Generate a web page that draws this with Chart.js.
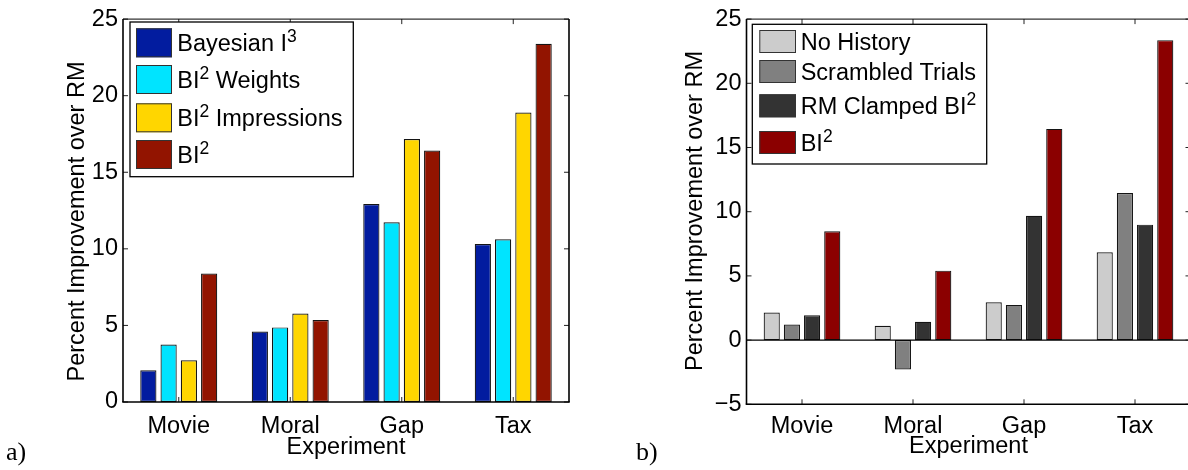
<!DOCTYPE html>
<html>
<head>
<meta charset="utf-8">
<script src="https://cdn.jsdelivr.net/npm/chart.js@4.4.1/dist/chart.umd.min.js"></script>
<style>
  html, body { margin: 0; padding: 0; background: #fff; overflow: hidden; }
  #wrap { position: relative; width: 1188px; height: 470px; overflow: hidden; background: #fff; }
  .panel { position: absolute; top: 0; width: 600px; height: 470px; }
  .tag { position: absolute; font-family: "Liberation Serif", serif; font-size: 26px; line-height: 26px; color: #000; }
</style>
</head>
<body>
<div id="wrap">
  <div class="panel" style="left:0"><canvas id="chartA" width="600" height="470"></canvas></div>
  <div class="panel" style="left:620px"><canvas id="chartB" width="600" height="470"></canvas></div>
  <div class="tag" style="left:6px; top:439px">a)</div>
  <div class="tag" style="left:636px; top:439px">b)</div>
</div>
<script>
// ---- data -------------------------------------------------------------
const experiments = ['Movie', 'Moral', 'Gap', 'Tax'];

// panel a)
const seriesNamesA = ['Bayesian I³', 'BI² Weights', 'BI² Impressions', 'BI²'];
const bayesianI3     = [2.07, 4.60, 12.93, 10.31];
const bi2Weights     = [3.75, 4.87, 11.73, 10.63];
const bi2Impressions = [2.72, 5.78, 17.17, 18.90];
const bi2A           = [8.39, 5.35, 16.42, 23.39];
const yTicksA = [0, 5, 10, 15, 20, 25];

// panel b)
const seriesNamesB = ['No History', 'Scrambled Trials', 'RM Clamped BI²', 'BI²'];
const noHistory       = [2.15, 1.11, 2.95, 6.84];
const scrambledTrials = [1.22, -2.28, 2.74, 11.45];
const rmClampedBI2    = [1.94, 1.42, 9.69, 8.99];
const bi2B            = [8.47, 5.41, 16.45, 23.36];
const yTicksB = [-5, 0, 5, 10, 15, 20, 25];

const yTitle = 'Percent Improvement over RM';
const xTitle = 'Experiment';

// ---- drawing helpers ------------------------------------------------------
const FAMILY = '"Liberation Sans", Arial, sans-serif';
const FS = 23.5;
const SUP = { '²': '2', '³': '3' };

// text with superscript digits drawn raised and smaller
function drawRich(ctx, text, x, y, size, supSize, rise) {
  const runs = [];
  for (const ch of text) {
    const sup = SUP[ch] !== undefined;
    const c = sup ? SUP[ch] : ch;
    if (runs.length && runs[runs.length - 1].sup === sup) runs[runs.length - 1].t += c;
    else runs.push({ sup, t: c });
  }
  let cx = x;
  ctx.textAlign = 'left';
  ctx.textBaseline = 'alphabetic';
  for (const r of runs) {
    ctx.font = (r.sup ? supSize : size) + 'px ' + FAMILY;
    ctx.fillText(r.t, cx, r.sup ? y - rise : y);
    cx += ctx.measureText(r.t).width;
  }
}

function seg(ctx, x1, y1, x2, y2) {
  ctx.beginPath(); ctx.moveTo(x1, y1); ctx.lineTo(x2, y2); ctx.stroke();
}

// axes box, inward ticks, zero line, legend and y title
const decorPlugin = {
  id: 'decor',
  afterDatasetsDraw(chart, args, o) {
    const ctx = chart.ctx, a = chart.chartArea;
    const xs = chart.scales.x, ys = chart.scales.y;
    ctx.save();

    // baseline at zero
    if (ys.min < 0) {
      const y0 = ys.getPixelForValue(0);
      ctx.strokeStyle = '#000'; ctx.lineWidth = 1.2;
      seg(ctx, a.left, y0, a.right, y0);
    }

    // inward tick marks on all four sides
    const tl = 5;
    ctx.strokeStyle = '#222'; ctx.lineWidth = 1;
    ys.ticks.forEach(t => {
      const y = ys.getPixelForValue(t.value);
      seg(ctx, a.left, y, a.left + tl, y);
      seg(ctx, a.right - tl, y, a.right, y);
    });
    xs.ticks.forEach((t, i) => {
      const x = xs.getPixelForTick(i);
      seg(ctx, x, a.bottom, x, a.bottom - tl);
      seg(ctx, x, a.top, x, a.top + tl);
    });

    // plot box
    ctx.strokeStyle = '#000';
    ctx.lineWidth = 1;
    seg(ctx, a.left, a.top, a.right, a.top);
    ctx.lineWidth = 1.6;
    seg(ctx, a.left, a.top, a.left, a.bottom);
    seg(ctx, a.right, a.top, a.right, a.bottom);
    seg(ctx, a.left - 0.8, a.bottom, a.right + 0.8, a.bottom);

    // legend
    const L = o.legend;
    ctx.fillStyle = '#fff';
    ctx.fillRect(L.frame[0], L.frame[1], L.frame[2] - L.frame[0], L.frame[3] - L.frame[1]);
    ctx.strokeStyle = '#000'; ctx.lineWidth = 1.3;
    ctx.strokeRect(L.frame[0], L.frame[1], L.frame[2] - L.frame[0], L.frame[3] - L.frame[1]);
    chart.data.datasets.forEach((ds, i) => {
      const top = L.rowTops[i];
      ctx.fillStyle = ds.backgroundColor;
      ctx.fillRect(L.boxX, top, L.boxW, L.boxH);
      ctx.strokeStyle = '#333'; ctx.lineWidth = 1;
      ctx.strokeRect(L.boxX + 0.5, top + 0.5, L.boxW - 1, L.boxH - 1);
      ctx.fillStyle = '#000';
      drawRich(ctx, ds.label, L.textX, top + L.boxH / 2 + L.baseOff, FS, 17.5, 9);
    });

    // y axis title
    ctx.translate(o.yTitle.x, o.yTitle.y);
    ctx.rotate(-Math.PI / 2);
    ctx.fillStyle = '#000';
    ctx.font = FS + 'px ' + FAMILY;
    ctx.textAlign = 'center';
    ctx.textBaseline = 'middle';
    ctx.fillText(yTitle, 0, 0);
    ctx.restore();
  }
};

function fmtTick(v) { return v < 0 ? '\u2212' + Math.abs(v) : String(v); }

function makeChart(id, names, series, colors, ticks, geom, decor) {
  return new Chart(document.getElementById(id), {
    type: 'bar',
    data: {
      labels: experiments,
      datasets: series.map((vals, i) => ({
        label: names[i],
        data: vals,
        backgroundColor: colors[i]
      }))
    },
    options: {
      responsive: false,
      animation: false,
      events: [],
      layout: { padding: geom.pad },
      datasets: {
        bar: {
          categoryPercentage: 0.727,
          barPercentage: 0.8,
          borderWidth: 1.2,
          borderColor: '#141414',
          borderSkipped: false
        }
      },
      plugins: {
        legend: { display: false },
        tooltip: { enabled: false },
        decor: decor
      },
      scales: {
        x: {
          grid: { display: false, drawTicks: false },
          border: { display: false },
          ticks: { color: '#000', font: { family: FAMILY, size: FS }, padding: geom.xTickPad, maxRotation: 0, autoSkip: false },
          title: { display: true, text: xTitle, color: '#000', font: { family: FAMILY, size: FS }, padding: { top: 0, bottom: geom.xTitlePad } },
          afterFit(s) { s.height = geom.xHeight; }
        },
        y: {
          min: ticks[0],
          max: ticks[ticks.length - 1],
          grid: { display: false, drawTicks: false },
          border: { display: false },
          ticks: { color: '#000', font: { family: FAMILY, size: FS }, padding: 5, callback: fmtTick },
          afterBuildTicks(s) { s.ticks = ticks.map(v => ({ value: v })); },
          afterFit(s) { s.width = geom.yWidth; }
        }
      }
    },
    plugins: [decorPlugin]
  });
}

makeChart('chartA', seriesNamesA,
  [bayesianI3, bi2Weights, bi2Impressions, bi2A],
  ['#021c9f', '#00e4ff', '#ffd600', '#921400'],
  yTicksA,
  { pad: { left: 0, top: 15.7, right: 31, bottom: 0 }, yWidth: 123, xHeight: 68, xTickPad: 10, xTitlePad: 8 },
  {
    legend: { frame: [130, 22, 353.3, 176.7], boxX: 136, boxW: 36, boxH: 29, rowTops: [28.3, 65, 103.3, 140], textX: 177.3, baseOff: 8 },
    yTitle: { x: 77.5, y: 221.5 }
  });

makeChart('chartB', seriesNamesB,
  [noHistory, scrambledTrials, rmClampedBI2, bi2B],
  ['#cccccc', '#808080', '#333333', '#8b0000'],
  yTicksB,
  { pad: { left: 0, top: 17.7, right: 29.5, bottom: 0 }, yWidth: 126.5, xHeight: 65.7, xTickPad: 8, xTitlePad: 9 },
  {
    legend: { frame: [132.3, 24.3, 366.7, 164], boxX: 139.3, boxW: 36.7, boxH: 23, rowTops: [30, 60, 94.3, 131], textX: 180.7, baseOff: 8.5 },
    yTitle: { x: 76, y: 211 }
  });
</script>
</body>
</html>
